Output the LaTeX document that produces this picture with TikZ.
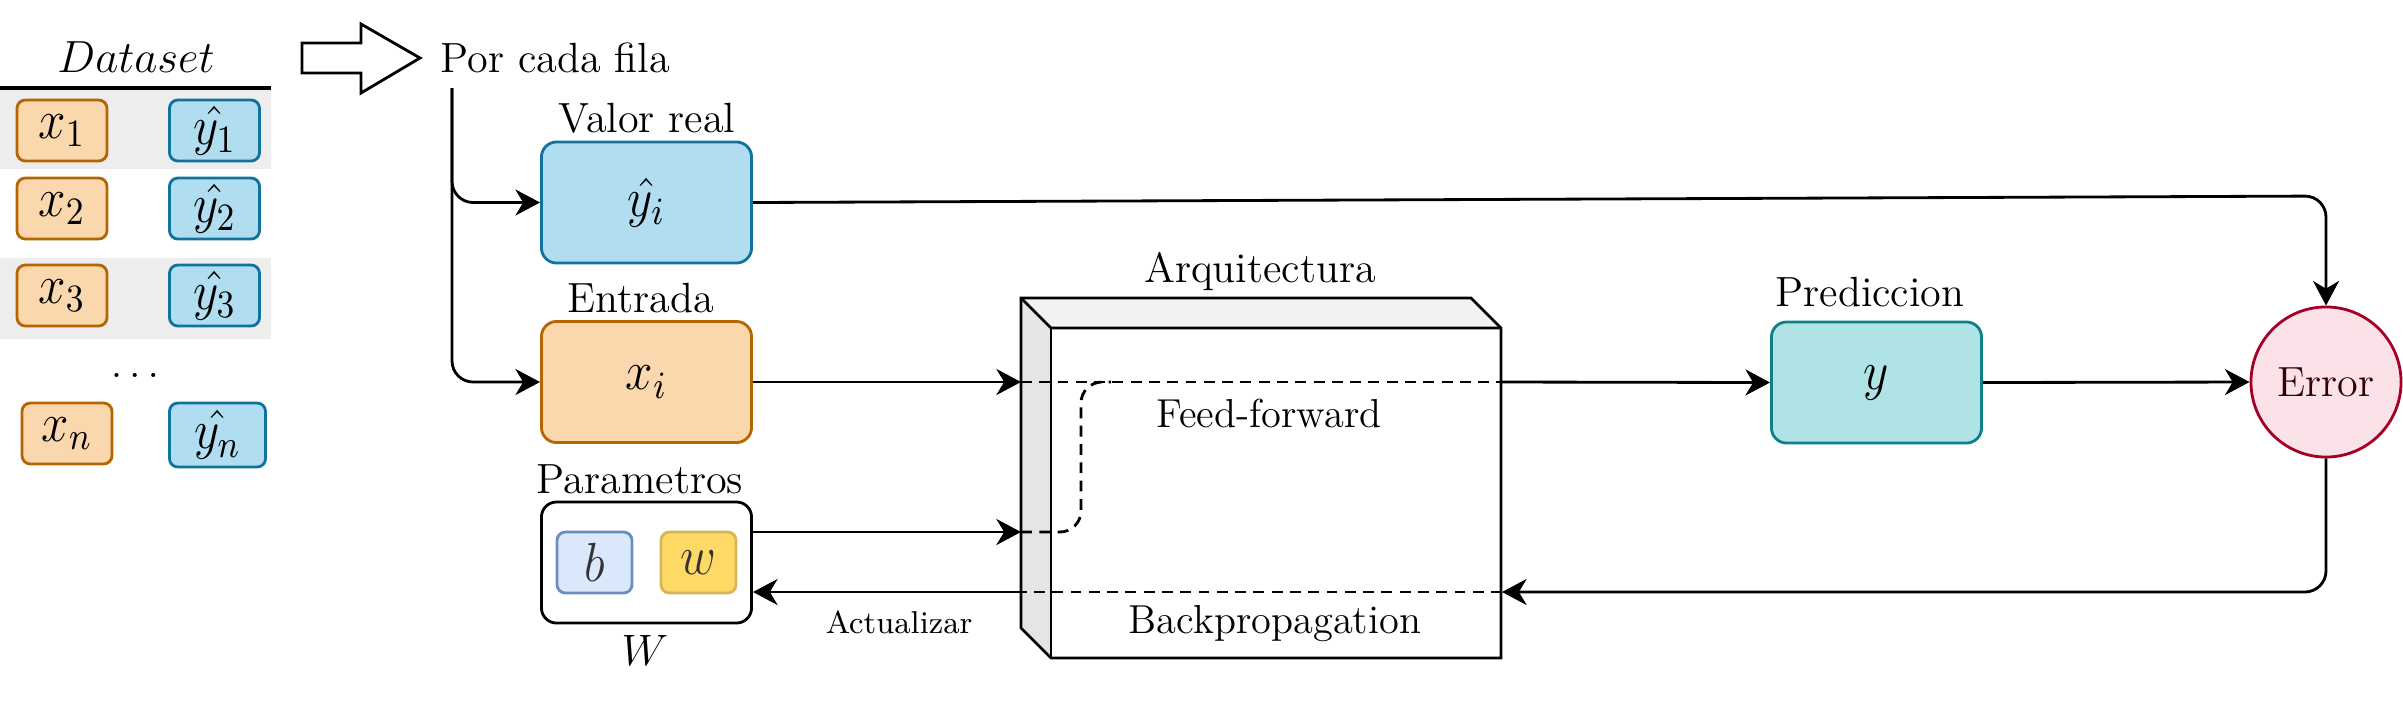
\RequirePackage{fix-cm}
\documentclass[tikz,border=0pt]{standalone}
\usetikzlibrary{arrows.meta}
\definecolor{vrfill}{HTML}{B1DDF0}\definecolor{vrdraw}{HTML}{10739E}
\definecolor{enfill}{HTML}{FAD7AC}\definecolor{endraw}{HTML}{B46504}
\definecolor{bfill}{HTML}{DAE8FC}\definecolor{bdraw}{HTML}{6C8EBF}
\definecolor{wfill}{HTML}{FFD966}\definecolor{wdraw}{HTML}{D6B656}
\definecolor{prfill}{HTML}{B0E3E6}\definecolor{prdraw}{HTML}{0E8088}
\definecolor{erfill}{HTML}{FBE2E8}\definecolor{erdraw}{HTML}{A20025}\definecolor{ertext}{HTML}{33000A}
\definecolor{band}{HTML}{EDEDED}
\definecolor{cubetop}{HTML}{F2F2F2}\definecolor{cubeside}{HTML}{E5E5E5}
\definecolor{glyph}{HTML}{333333}
\newcommand\mymath[1]{\scalebox{1}[1.12]{$#1$}}
\begin{document}
\begin{tikzpicture}[x=0.01cm,y=-0.01cm,
  lw/.style={line width=0.8pt},
  arr/.style={lw,-{Stealth[length=7pt,width=7.4pt,inset=2.2pt]}},
  dsh/.style={lw,dash pattern=on 3.1pt off 2.1pt},
  lbl/.style={font=\fontsize{12}{14}\selectfont,inner sep=0pt},
  midlbl/.style={font=\fontsize{11.5}{13}\selectfont,inner sep=0pt},
  smalllbl/.style={font=\fontsize{9}{11}\selectfont,inner sep=0pt},
  bigbox/.style={rounded corners=4.3pt,line width=0.8pt,minimum width=2.1cm,minimum height=1.21cm,inner sep=0pt,font=\fontsize{14}{16}\selectfont},
  smallbox/.style={rounded corners=2.4pt,line width=0.8pt,minimum width=0.9cm,minimum height=0.61cm,inner sep=0pt,font=\fontsize{14}{16}\selectfont},
  xbox/.style={smallbox,fill=enfill,draw=endraw},
  ybox/.style={smallbox,fill=vrfill,draw=vrdraw},
]
\useasboundingbox (0,0) rectangle (2403,711);

% dataset
\fill[band] (0,90) rectangle (271,169);
\fill[band] (0,258) rectangle (271,339);
\draw[line width=0.9pt] (0,88) -- (271,88);
\node[lbl,font=\fontsize{12.8}{15}\selectfont,anchor=base] (ds) at (136,72) {$Dataset$};
\node[xbox] (x1) at (62,130.5) {\mymath{x_1}};
\node[ybox] (y1) at (214.5,130.5) {\mymath{\hat{y_1}}};
\node[xbox] (x2) at (62,208.5) {\mymath{x_2}};
\node[ybox] (y2) at (214.5,208.5) {\mymath{\hat{y_2}}};
\node[xbox] (x3) at (62,295.5) {\mymath{x_3}};
\node[ybox] (y3) at (214.5,295.5) {\mymath{\hat{y_3}}};
\node[lbl,anchor=base] (dots) at (135,377) {$\ldots$};
\node[xbox] (xn) at (67,433.5) {\mymath{x_n}};
\node[ybox,minimum width=0.96cm,minimum height=0.64cm] (yn) at (217.5,435) {\mymath{\hat{y_n}}};

% block arrow
\draw[lw,fill=white,line join=miter] (302,43) -- (361,43) -- (361,24) -- (420,58) -- (361,93) -- (361,73) -- (302,73) -- cycle;
\node[lbl,anchor=base west] (pcf) at (440,72) {Por cada fila};
\coordinate (vtop) at (452,88);

% left boxes
\node[bigbox,fill=vrfill,draw=vrdraw] (vr) at (646.5,202.5) {\mymath{\hat{y_i}}};
\node[lbl,anchor=base] (vrl) at (647,132) {Valor real};
\node[bigbox,fill=enfill,draw=endraw] (en) at (646.5,382) {\mymath{x_i}};
\node[lbl,anchor=base] (enl) at (641,312) {Entrada};
\node[bigbox,fill=white,draw=black] (par) at (646.5,562.5) {};
\node[lbl,anchor=base] (parl) at (640,493) {Parametros};
\node[smallbox,minimum width=0.75cm,fill=bfill,draw=bdraw,text=glyph] (b) at (594.5,562.5) {\mymath{b}};
\node[smallbox,minimum width=0.75cm,fill=wfill,draw=wdraw,text=glyph] (w) at (698.5,562.5) {\mymath{w}};
\node[lbl,font=\fontsize{12.5}{15}\selectfont,anchor=base] (W) at (645,665) {$W$};

\draw[arr,rounded corners=6pt] (vtop) |- (vr.west);
\draw[arr,rounded corners=6pt] (vtop) |- (en.west);

% cube
\fill[cubetop] (1021,298) -- (1471,298) -- (1501,328) -- (1051,328) -- cycle;
\fill[cubeside] (1021,298) -- (1051,328) -- (1051,658) -- (1021,628) -- cycle;
\fill[white] (1051,328) rectangle (1501,658);
\draw[lw,line join=miter] (1021,298) -- (1471,298) -- (1501,328) -- (1501,658) -- (1051,658) -- (1021,628) -- cycle;
\draw[lw] (1021,298) -- (1051,328) -- (1501,328);
\draw[lw] (1051,328) -- (1051,658);
\node[lbl,anchor=base] (arql) at (1260,282) {Arquitectura};

\coordinate (cl1) at (1021,382);
\coordinate (cr1) at (1501,382);
\coordinate (cl2) at (1021,532);
\coordinate (cx) at (1081,382);
\coordinate (br) at (1502,592);
\coordinate (bl) at (1021,592);
\coordinate (c1) at (2326,196);

% right boxes
\node[bigbox,fill=prfill,draw=prdraw] (pr) at (1876.5,382.5) {\mymath{y}};
\node[lbl,anchor=base] (prl) at (1870,306) {Prediccion};
\node[circle,line width=0.8pt,fill=erfill,draw=erdraw,text=ertext,minimum size=1.5cm,inner sep=0pt,font=\fontsize{12}{14}\selectfont] (err) at (2326,382) {Error};

% connectors
\draw[arr] (en.east) -- (cl1);
\draw[dsh] (cl1) -- (cr1);
\draw[arr] (cr1) -- (pr.west);
\draw[arr] (pr.east) -- (err.west);
\draw[arr] (par.east |- cl2) -- (cl2);
\draw[dsh,rounded corners=6pt] (cl2) -| (cx) -- ++(30,0);
\draw[arr,rounded corners=6pt] (vr.east) -- (err.north |- c1) -- (err.north);
\draw[arr,rounded corners=6pt] (err.south) |- (br);
\draw[dsh] (br) -- (bl);
\draw[arr] (bl) -- (par.east |- bl);

\node[midlbl,anchor=base] (ffl) at (1269,427) {Feed-forward};
\node[midlbl,anchor=base] (bpl) at (1275,633) {Backpropagation};
\node[smalllbl,anchor=base] (actl) at (899,633) {Actualizar};
\end{tikzpicture}
\end{document}
